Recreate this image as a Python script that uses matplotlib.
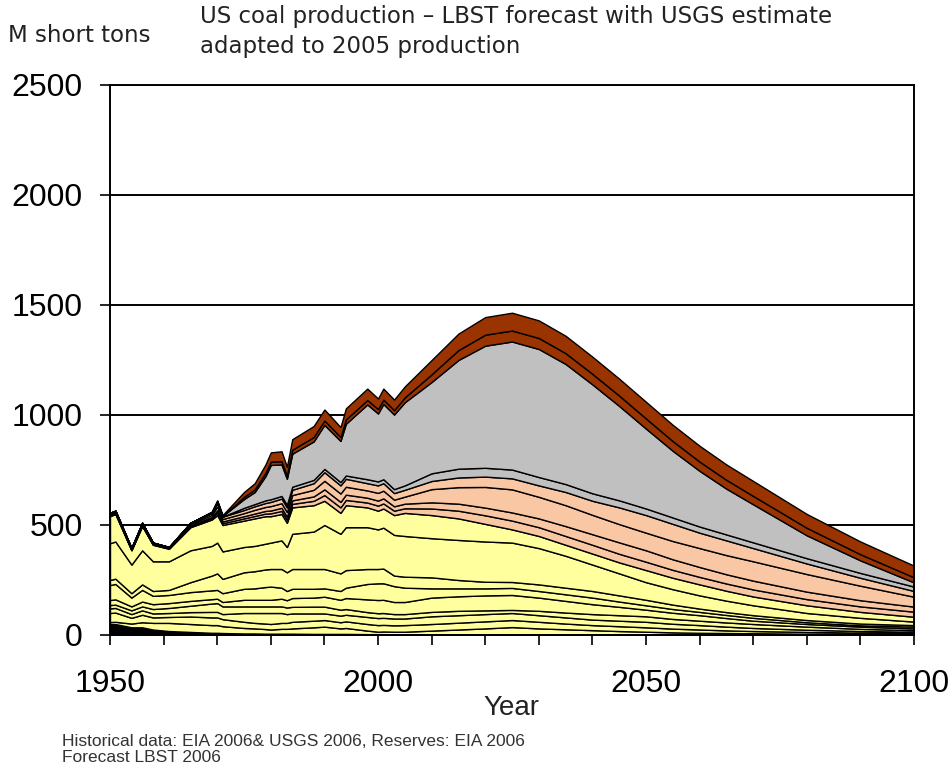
import numpy as np
import matplotlib
matplotlib.use("Agg")
import matplotlib.pyplot as plt
from matplotlib.ticker import MultipleLocator

# ---- data (million short tons) ----
years = [1950, 1951, 1954, 1956, 1958, 1961, 1965, 1969, 1970, 1971,
         1975, 1977, 1979, 1980, 1982, 1983, 1984, 1988, 1990, 1993,
         1994, 1998, 2000, 2001, 2003, 2005,
         2010, 2015, 2020, 2025, 2030, 2035, 2040, 2045, 2050, 2055,
         2060, 2065, 2070, 2080, 2090, 2100]

anthracite = [50, 50, 35, 35, 25, 18, 14, 10, 10, 9,
              7, 7, 6, 6, 6, 6, 6, 5, 5, 5,
              5, 4, 4, 4, 3, 3,
              3, 3, 3, 3, 3, 3, 2, 2, 2, 2, 2, 1, 1, 1, 1, 1]
yellow_1 = [9, 10, 17, 23, 30, 37, 36, 35, 35, 31,
            25, 23, 21, 19, 22, 22, 24, 30, 33, 25,
            27, 16, 11, 12, 12, 12,
            17, 22, 27, 33, 27, 23, 20, 16, 13, 10, 8, 8, 7, 5, 4, 4]
yellow_2 = [41, 42, 26, 34, 25, 27, 34, 35, 35, 32,
            28, 25, 25, 25, 27, 27, 30, 30, 30, 28,
            30, 30, 30, 30, 29, 30,
            30, 31, 32, 32, 30, 26, 23, 22, 20, 17, 15, 12, 10, 8, 6, 5]
yellow_3 = [21, 21, 17, 20, 18, 18, 20, 25, 25, 23,
            40, 45, 48, 50, 45, 40, 38, 33, 30, 30,
            30, 32, 32, 32, 31, 30,
            35, 34, 33, 32, 30, 28, 25, 25, 25, 22, 20, 17, 14, 10, 7, 5]
yellow_4 = [15, 15, 17, 18, 20, 23, 29, 38, 40, 35,
            30, 30, 30, 30, 30, 30, 30, 31, 31, 27,
            26, 22, 22, 22, 20, 20,
            20, 20, 17, 14, 20, 22, 25, 25, 25, 22, 20, 19, 18, 14, 10, 7]
yellow_5 = [23, 24, 18, 22, 22, 22, 22, 20, 20, 20,
            30, 30, 30, 30, 35, 33, 40, 41, 45, 45,
            50, 58, 60, 60, 55, 55,
            65, 66, 68, 68, 60, 53, 45, 38, 30, 28, 25, 20, 15, 12, 10, 8]
yellow_6 = [68, 70, 40, 53, 38, 37, 40, 40, 40, 40,
            50, 52, 58, 60, 50, 42, 42, 40, 38, 40,
            47, 70, 76, 75, 72, 65,
            42, 36, 32, 32, 30, 30, 30, 24, 20, 17, 15, 14, 13, 8, 6, 8]
yellow_7 = [23, 24, 20, 25, 22, 23, 45, 67, 75, 65,
            75, 78, 80, 80, 85, 85, 90, 90, 88, 80,
            80, 68, 65, 67, 48, 50,
            50, 38, 30, 27, 30, 30, 30, 28, 25, 20, 15, 13, 12, 10, 8, 7]
yellow_8 = [167, 169, 130, 155, 135, 130, 145, 135, 140, 125,
            115, 115, 117, 120, 130, 115, 160, 170, 200, 180,
            195, 190, 180, 186, 185, 185,
            178, 182, 183, 179, 165, 145, 120, 100, 80, 70, 60, 52, 45, 32, 26, 16]
yellow_9 = [123, 125, 65, 110, 75, 57, 105, 120, 125, 120,
            120, 125, 125, 120, 120, 110, 120, 120, 110, 95,
            100, 90, 85, 87, 90, 105,
            105, 98, 80, 60, 55, 50, 50, 50, 55, 52, 50, 45, 40, 35, 27, 22]

peach_1 = [3, 3, 2, 3, 2, 2, 4, 6, 11, 8,
           10, 11, 12, 13, 14, 14, 16, 20, 26, 25,
           24, 22, 23, 23, 20, 21,
           30, 35, 39, 40, 40, 40, 40, 39, 38, 36, 34, 33, 32, 28, 25, 23]
peach_2 = [3, 3, 2, 3, 2, 2, 4, 6, 11, 8,
           10, 11, 12, 13, 14, 14, 16, 20, 26, 25,
           24, 22, 23, 23, 20, 21,
           28, 32, 35, 37, 40, 45, 48, 52, 52, 48, 45, 42, 40, 34, 28, 23]
peach_3 = [4, 4, 3, 4, 3, 2, 6, 9, 17, 11,
           14, 17, 18, 20, 21, 21, 24, 30, 39, 38,
           36, 33, 35, 35, 30, 32,
           60, 75, 94, 105, 98, 95, 88, 83, 80, 83, 86, 87, 88, 80, 66, 45]
peach_4 = [5, 5, 3, 5, 3, 2, 6, 9, 16, 11,
           14, 16, 18, 19, 21, 21, 24, 30, 39, 37,
           36, 33, 34, 34, 30, 31,
           37, 44, 47, 50, 52, 60, 64, 76, 80, 78, 70, 67, 60, 48, 36, 26]

grey_thin = [0, 0, 0, 0, 0, 0, 0, 0, 0, 0,
             10, 10, 12, 12, 12, 12, 14, 15, 15, 15,
             15, 18, 18, 18, 18, 20,
             35, 40, 40, 40, 38, 36, 34, 32, 30, 29, 28, 27, 26, 24, 22, 20]
grey_main = [0, 0, 0, 0, 0, 0, 0, 5, 8, 3,
             40, 55, 110, 156, 143, 118, 150, 175, 200, 187,
             235, 340, 309, 342, 339, 378,
             415, 494, 555, 582, 582, 546, 495, 429, 363, 303, 253, 208, 173,
             104, 57, 19]

brown_lower = [0, 0, 0, 0, 0, 0, 0, 0, 0, 0,
               10, 12, 15, 15, 15, 15, 18, 20, 20, 18,
               20, 20, 20, 20, 20, 22,
               35, 45, 50, 50, 50, 49, 48, 47, 46, 44, 42, 40, 38, 34, 28, 23]
brown_upper = [0, 0, 0, 0, 0, 0, 0, 0, 4, 4,
               22, 28, 38, 42, 45, 40, 48, 50, 50, 45,
               50, 52, 48, 50, 48, 50,
               65, 75, 80, 81, 80, 79, 78, 77, 76, 74, 72, 70, 68, 63, 58, 53]

y_ticks = [0, 500, 1000, 1500, 2000, 2500]
x_ticks = [1950, 2000, 2050, 2100]

# ---- styling ----
BLACK = "#000000"
YELLOW = "#FFFF9E"
PEACH = "#F9C7A3"
GREY = "#C0C0C0"
BROWN = "#993300"

layers = [anthracite, yellow_1, yellow_2, yellow_3, yellow_4, yellow_5,
          yellow_6, yellow_7, yellow_8, yellow_9,
          peach_1, peach_2, peach_3, peach_4,
          grey_thin, grey_main, brown_lower, brown_upper]
colors = [BLACK] + [YELLOW] * 9 + [PEACH] * 4 + [GREY] * 2 + [BROWN] * 2

W, H = 953, 778
fig = plt.figure(figsize=(W / 100, H / 100), dpi=100)
fig.patch.set_facecolor("white")

left, right, top, bottom = 110, 914, 85, 635
ax = fig.add_axes([left / W, 1 - bottom / H, (right - left) / W, (bottom - top) / H])

ax.stackplot(years, *layers, colors=colors, edgecolor="black",
             linewidth=1.0, zorder=2)

ax.set_xlim(1950, 2100)
ax.set_ylim(0, 2500)

ax.set_yticks(y_ticks)
ax.set_xticks(x_ticks)
ax.xaxis.set_minor_locator(MultipleLocator(10))
ax.yaxis.grid(True, color="black", linewidth=1.4, zorder=0)
ax.set_axisbelow(True)

for side in ["left", "bottom", "right", "top"]:
    ax.spines[side].set_linewidth(1.4)
    ax.spines[side].set_color("black")
    ax.spines[side].set_zorder(5)

ax.tick_params(axis="y", direction="out", length=7.5, width=1.2, pad=12,
               labelsize=23)
ax.tick_params(axis="x", which="both", direction="out", length=7.5,
               width=1.2)
ax.tick_params(axis="x", which="major", pad=17, labelsize=23)

for lab in ax.get_yticklabels() + ax.get_xticklabels():
    lab.set_family(["Liberation Sans", "DejaVu Sans"])

# ---- texts ----
fig.text(8 / W, 1 - 35 / H, "M short tons", ha="left", va="center",
         fontsize=16.5, color="#222222", family="DejaVu Sans")
fig.text(200 / W, 1 - 17 / H,
         "US coal production \u2013 LBST forecast with USGS estimate",
         ha="left", va="center", fontsize=16.5, color="#222222",
         family="DejaVu Sans")
fig.text(200 / W, 1 - 47 / H, "adapted to 2005 production",
         ha="left", va="center", fontsize=16.5, color="#222222",
         family="DejaVu Sans")
fig.text(511 / W, 1 - 708 / H, "Year", ha="center", va="center",
         fontsize=20, color="#222222", family="Liberation Sans")
fig.text(62 / W, 1 - 741 / H,
         "Historical data: EIA 2006& USGS 2006, Reserves: EIA 2006",
         ha="left", va="center", fontsize=12.5, color="#333333",
         family="Liberation Sans")
fig.text(62 / W, 1 - 757 / H, "Forecast LBST 2006",
         ha="left", va="center", fontsize=12.5, color="#333333",
         family="Liberation Sans")

fig.savefig("out.png", dpi=100, facecolor="white")
